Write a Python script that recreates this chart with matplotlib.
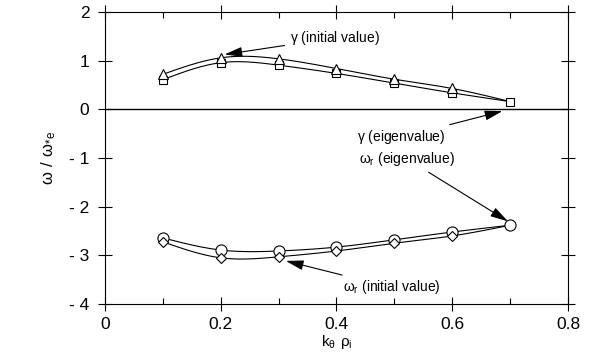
import numpy as np
import matplotlib.pyplot as plt

# k_theta rho_i values
k = [0.1, 0.2, 0.3, 0.4, 0.5, 0.6, 0.7]
k_init = [0.1, 0.2, 0.3, 0.4, 0.5, 0.6]

# growth rate gamma
gamma_eig = [0.61, 0.96, 0.91, 0.74, 0.54, 0.34, 0.16]
gamma_init = [0.72, 1.06, 1.04, 0.84, 0.62, 0.43]

# real frequency omega_r
omr_eig = [-2.64, -2.89, -2.91, -2.83, -2.68, -2.52, -2.38]
omr_init = [-2.72, -3.05, -3.03, -2.91, -2.75, -2.60]


def spline(x, y, n=200):
    # natural cubic spline, just for drawing the smooth fit curve
    x = np.asarray(x, float)
    y = np.asarray(y, float)
    m = len(x)
    h = np.diff(x)
    A = np.zeros((m, m))
    b = np.zeros(m)
    A[0, 0] = A[-1, -1] = 1
    for i in range(1, m - 1):
        A[i, i - 1] = h[i - 1]
        A[i, i] = 2 * (h[i - 1] + h[i])
        A[i, i + 1] = h[i]
        b[i] = 6 * ((y[i + 1] - y[i]) / h[i] - (y[i] - y[i - 1]) / h[i - 1])
    M = np.linalg.solve(A, b)
    xs = np.linspace(x[0], x[-1], n)
    idx = np.clip(np.searchsorted(x, xs) - 1, 0, m - 2)
    t0 = x[idx + 1] - xs
    t1 = xs - x[idx]
    hh = h[idx]
    ys = (M[idx] * t0**3 + M[idx + 1] * t1**3) / (6 * hh) \
        + (y[idx] / hh - M[idx] * hh / 6) * t0 \
        + (y[idx + 1] / hh - M[idx + 1] * hh / 6) * t1
    return xs, ys


plt.rcParams['font.family'] = ['Liberation Sans', 'DejaVu Sans']
fig = plt.figure(figsize=(5.95, 3.56), dpi=100)
ax = fig.add_axes([0.176, 0.146, 0.779, 0.82])

lw = 0.8
# fit curves; initial-value curves run into the last eigenvalue point
ax.plot(*spline(k, gamma_eig), color='black', lw=lw)
ax.plot(*spline(k, gamma_init + [gamma_eig[-1]]), color='black', lw=lw)
ax.plot(*spline(k, omr_eig), color='black', lw=lw)
ax.plot(*spline(k, omr_init + [omr_eig[-1]]), color='black', lw=lw)

mk = dict(ls='none', mfc='white', mec='black', mew=0.8, zorder=3)
ax.plot(k, gamma_eig, marker='s', ms=6, **mk)
ax.plot(k_init, gamma_init, marker='^', ms=7, **mk)
ax.plot(k, omr_eig, marker='o', ms=8, **mk)
ax.plot(k_init, omr_init, marker='D', ms=5, **mk)

ax.axhline(0, color='black', lw=1.0)

ax.set_xlim(0, 0.8)
ax.set_ylim(-4, 2)
ax.set_xticks([0, 0.2, 0.4, 0.6, 0.8])
ax.set_xticklabels(['0', '0.2', '0.4', '0.6', '0.8'])
ax.set_xticks([0.1, 0.3, 0.5, 0.7], minor=True)
ax.set_yticks([2, 1, 0, -1, -2, -3, -4])
ax.set_yticklabels(['2', '1', '0', '- 1', '- 2', '- 3', '- 4'])
ax.tick_params(which='major', direction='inout', length=10, width=0.8,
               top=True, right=True, labelsize=12.5, pad=6)
ax.tick_params(axis='x', which='major', pad=4)
ax.tick_params(which='minor', direction='in', length=4, width=0.8,
               top=True, right=False)
for s in ax.spines.values():
    s.set_linewidth(0.8)

ax.set_xlabel(r'$\mathregular{k_\theta\ \rho_i}$', fontsize=11, labelpad=1)
ax.set_ylabel(r'$\mathregular{\omega\ /\ \omega_{*e}}$', fontsize=12, labelpad=8)

arr = dict(arrowstyle='-|>,head_length=0.9,head_width=0.25', color='black',
           lw=0.8, mutation_scale=12)
fs = 10
ax.annotate(r'$\mathregular{\gamma}$ (initial value)', xy=(0.202, 1.12), xytext=(0.32, 1.47),
            ha='left', va='center', fontsize=fs, arrowprops=arr)
ax.annotate(r'$\mathregular{\gamma}$ (eigenvalue)', xy=(0.691, -0.02), xytext=(0.588, -0.57),
            ha='right', va='center', fontsize=fs, arrowprops=arr)
ax.annotate(r'$\mathregular{\omega_r}$ (eigenvalue)', xy=(0.700, -2.33), xytext=(0.605, -1.02),
            ha='right', va='center', fontsize=fs, arrowprops=arr)
ax.annotate(r'$\mathregular{\omega_r}$ (initial value)', xy=(0.308, -3.10), xytext=(0.411, -3.66),
            ha='left', va='center', fontsize=fs, arrowprops=arr)

fig.savefig('out.png', dpi=100)
